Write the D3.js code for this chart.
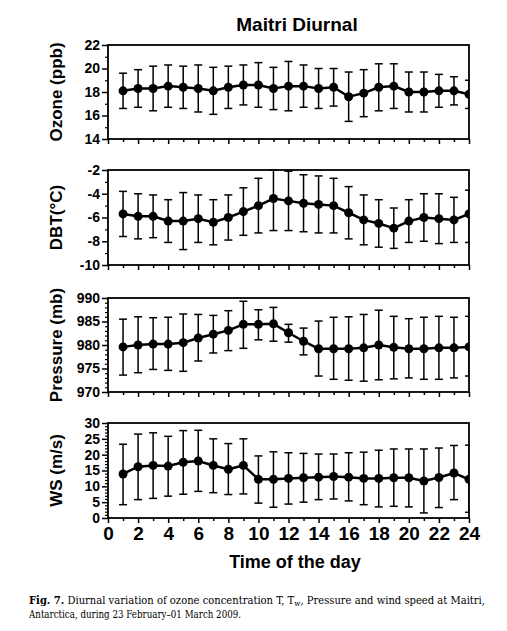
<!DOCTYPE html>
<html><head><meta charset="utf-8">
<script src="https://cdn.jsdelivr.net/npm/d3@7/dist/d3.min.js"></script>
<style>body{margin:0;background:#fff}svg{display:block}</style>
</head><body>
<svg id="c" width="507" height="631"></svg>
<script>
const hours = d3.range(1, 25);
const ozoneMean = [18.1,18.3,18.3,18.5,18.4,18.3,18.1,18.4,18.6,18.6,18.3,18.5,18.5,18.3,18.4,17.6,17.9,18.4,18.5,18.0,18.0,18.1,18.1,17.8];
const ozoneHi   = [19.6,19.9,20.2,20.3,20.2,20.3,20.1,20.2,20.3,20.5,20.1,20.6,20.3,20.0,20.0,19.7,19.9,20.4,20.4,19.7,19.7,19.5,19.3,19.0];
const ozoneLo   = [16.6,16.7,16.4,16.7,16.6,16.3,16.1,16.6,16.9,16.7,16.5,16.4,16.7,16.6,16.8,15.5,15.9,16.4,16.6,16.3,16.3,16.7,16.9,16.6];
const dbtMean = [-5.7,-5.9,-5.9,-6.3,-6.3,-6.1,-6.4,-6.0,-5.5,-5.0,-4.4,-4.6,-4.8,-4.9,-5.0,-5.6,-6.2,-6.5,-6.9,-6.3,-6.0,-6.1,-6.2,-5.7];
const dbtHi   = [-3.8,-4.0,-4.1,-4.5,-3.9,-4.1,-4.5,-4.1,-3.5,-2.7,-2.0,-2.1,-2.4,-2.5,-2.7,-3.4,-4.1,-4.5,-5.2,-4.5,-4.0,-4.0,-4.3,-3.7];
const dbtLo   = [-7.6,-7.8,-7.7,-8.1,-8.7,-8.1,-8.3,-7.9,-7.5,-7.3,-7.1,-7.1,-7.2,-7.3,-7.3,-7.8,-8.3,-8.5,-8.6,-8.1,-8.0,-8.2,-8.1,-8.1];
const presMean = [979.6,980.0,980.2,980.2,980.5,981.5,982.3,983.1,984.4,984.4,984.5,982.6,980.8,979.2,979.2,979.2,979.4,980.0,979.5,979.2,979.2,979.4,979.4,979.6];
const presHi   = [985.5,986.0,985.8,985.9,986.6,986.5,986.3,987.3,989.3,987.5,988.0,984.4,983.6,985.1,985.9,986.0,986.5,987.4,986.1,985.6,985.9,986.1,985.9,986.1];
const presLo   = [973.6,974.1,974.8,974.6,974.4,976.6,978.3,978.8,979.3,981.1,980.8,980.6,977.9,973.4,972.7,972.5,972.3,972.6,972.8,973.0,972.7,972.7,973.0,973.4];
const wsMean = [13.9,16.2,16.6,16.4,17.6,18.0,16.6,15.4,16.6,12.2,12.2,12.5,12.7,12.9,13.1,12.9,12.5,12.5,12.7,12.7,11.7,12.8,14.2,12.2];
const wsHi   = [23.3,26.5,26.9,25.8,27.6,27.7,25.0,23.5,25.0,19.6,20.9,20.6,20.4,20.2,20.2,20.6,20.8,21.4,21.8,21.8,21.8,22.1,22.9,23.0];
const wsLo   = [4.2,5.8,6.2,6.9,7.5,8.4,8.0,7.4,7.6,4.7,3.4,4.4,5.0,5.8,6.0,5.4,4.2,3.5,3.7,3.5,1.6,3.3,5.8,1.8];
const xTicks = d3.range(0, 25, 2);

const panels = [
  {label:"Ozone (ppb)", mean:ozoneMean, hi:ozoneHi, lo:ozoneLo, dom:[14,22], major:[14,16,18,20,22], minorStep:1, top:45, bottom:139},
  {label:"DBT(\u00B0C)", mean:dbtMean, hi:dbtHi, lo:dbtLo, dom:[-10,-2], major:[-10,-8,-6,-4,-2], minorStep:1, top:170, bottom:265},
  {label:"Pressure (mb)", mean:presMean, hi:presHi, lo:presLo, dom:[970,990], major:[970,975,980,985,990], minorStep:1, top:298, bottom:392},
  {label:"WS (m/s)", mean:wsMean, hi:wsHi, lo:wsLo, dom:[0,30], major:[0,5,10,15,20,25,30], minorStep:1, top:423, bottom:518}
];

const svg = d3.select("#c");
const L = 108, R = 469;
const x = d3.scaleLinear().domain([0,24]).range([L,R]);
const font = "'Liberation Sans', Arial, sans-serif";
const fmt = v => String(v);

svg.append("text").attr("x",297).attr("y",31).attr("text-anchor","middle")
  .attr("font-family",font).attr("font-weight","bold").attr("font-size",19).text("Maitri Diurnal");

panels.forEach((p,i)=>{
  const y = d3.scaleLinear().domain(p.dom).range([p.bottom,p.top]);
  const g = svg.append("g");
  const cid = "clip"+i;
  svg.append("clipPath").attr("id",cid).append("rect")
    .attr("x",L).attr("y",p.top-1).attr("width",R-L).attr("height",p.bottom-p.top+2);

  const minors = d3.range(p.dom[0], p.dom[1]+0.001, p.minorStep).filter(v=>!p.major.includes(v));
  g.append("g").attr("transform",`translate(${L},0)`)
    .call(d3.axisLeft(y).tickValues(minors).tickSize(3).tickFormat(""))
    .call(a=>a.select(".domain").remove())
    .selectAll("line").attr("stroke","#000").attr("stroke-width",1.2);
  g.append("g").attr("transform",`translate(${L},0)`)
    .call(d3.axisLeft(y).tickValues(p.major).tickSize(6).tickPadding(2).tickFormat(fmt))
    .call(a=>a.select(".domain").remove())
    .call(a=>a.selectAll("line").attr("stroke","#000").attr("stroke-width",1.5))
    .call(a=>a.selectAll("text").attr("font-family",font).attr("font-weight","bold").attr("font-size",14).attr("fill","#000"));

  g.append("g").attr("transform",`translate(0,${p.bottom})`)
    .call(d3.axisBottom(x).tickValues(d3.range(1,24,2)).tickSize(3).tickFormat(""))
    .call(a=>a.select(".domain").remove())
    .selectAll("line").attr("stroke","#000").attr("stroke-width",1.5);
  const xm = g.append("g").attr("transform",`translate(0,${p.bottom})`)
    .call(d3.axisBottom(x).tickValues(xTicks).tickSize(5).tickPadding(4).tickFormat(i===3?fmt:""))
    .call(a=>a.select(".domain").remove())
    .call(a=>a.selectAll("line").attr("stroke","#000").attr("stroke-width",1.5));
  if(i===3){
    xm.selectAll("text").attr("font-family",font).attr("font-weight","bold").attr("font-size",19).attr("fill","#000");
  }

  const d = g.append("g").attr("clip-path",`url(#${cid})`);
  hours.forEach((h,k)=>{
    d.append("line").attr("x1",x(h)).attr("x2",x(h)).attr("y1",y(p.hi[k])).attr("y2",y(p.lo[k]))
      .attr("stroke","#000").attr("stroke-width",1.5);
    [p.hi[k],p.lo[k]].forEach(v=>{
      d.append("line").attr("x1",x(h)-4).attr("x2",x(h)+4).attr("y1",y(v)).attr("y2",y(v))
        .attr("stroke","#000").attr("stroke-width",1.5);
    });
  });
  d.append("path").datum(hours.map((h,k)=>[h,p.mean[k]]))
    .attr("fill","none").attr("stroke","#000").attr("stroke-width",2.5)
    .attr("d", d3.line().x(q=>x(q[0])).y(q=>y(q[1])));
  d.selectAll("circle").data(hours.map((h,k)=>[h,p.mean[k]])).join("circle")
    .attr("cx",q=>x(q[0])).attr("cy",q=>y(q[1])).attr("r",4.5).attr("fill","#000");

  g.append("rect").attr("x",L).attr("y",p.top).attr("width",R-L).attr("height",p.bottom-p.top)
    .attr("fill","none").attr("stroke","#000").attr("stroke-width",1.8);

  const cy = (p.top+p.bottom)/2;
  g.append("text").attr("transform",`translate(56,${cy}) rotate(-90)`).attr("text-anchor","middle")
    .attr("dominant-baseline","central")
    .attr("font-family",font).attr("font-weight","bold").attr("font-size",17).text(p.label);
});

svg.append("text").attr("x",295).attr("y",568).attr("text-anchor","middle")
  .attr("font-family",font).attr("font-weight","bold").attr("font-size",18).text("Time of the day");

const serif = "'DejaVu Serif Condensed','Liberation Serif',serif";
const cap1 = svg.append("text").attr("x",29).attr("y",604).attr("font-family",serif).attr("font-size",10.5)
  .attr("textLength",456).attr("lengthAdjust","spacingAndGlyphs");
cap1.append("tspan").attr("font-weight","bold").text("Fig. 7.");
cap1.append("tspan").text(" Diurnal variation of ozone concentration T, T");
cap1.append("tspan").attr("font-size",7.5).attr("dy",2).text("w");
cap1.append("tspan").attr("dy",-2).text(", Pressure and wind speed at Maitri,");
svg.append("text").attr("x",29).attr("y",618).attr("font-family",serif).attr("font-size",10.5)
  .attr("textLength",212).attr("lengthAdjust","spacingAndGlyphs")
  .text("Antarctica, during 23 February\u201301 March 2009.");
</script>
</body></html>
